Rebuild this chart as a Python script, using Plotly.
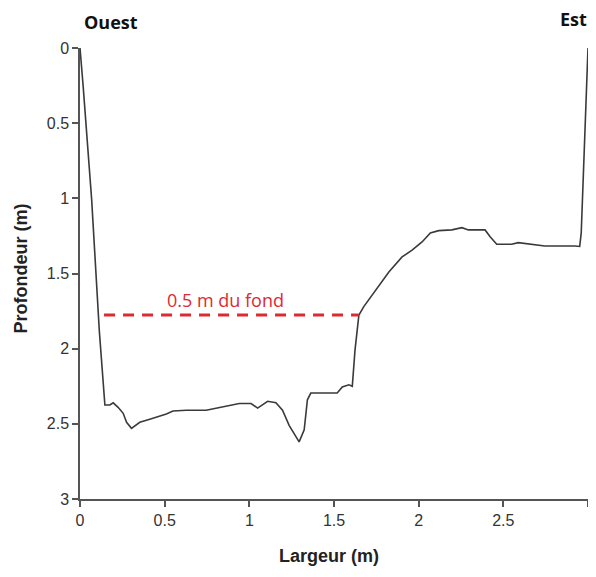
import plotly.graph_objects as go

# Cross-section profile (width in m, depth in m)
largeur = [0.0, 0.019, 0.069, 0.114, 0.147, 0.176, 0.196, 0.225, 0.255, 0.275,
           0.304, 0.353, 0.412, 0.471, 0.51, 0.549, 0.628, 0.745, 0.804, 0.863,
           0.941, 1.01, 1.049, 1.108, 1.157, 1.196, 1.235, 1.294, 1.324, 1.343,
           1.363, 1.519, 1.549, 1.588, 1.608, 1.624, 1.647, 1.676, 1.745, 1.824,
           1.902, 1.961, 2.02, 2.069, 2.118, 2.196, 2.255, 2.294, 2.392, 2.422,
           2.461, 2.549, 2.588, 2.667, 2.745, 2.922, 2.951, 2.96, 3.0]
profondeur = [0.0, 0.26, 1.01, 1.88, 2.375, 2.375, 2.36, 2.39, 2.43, 2.49,
              2.53, 2.49, 2.47, 2.45, 2.435, 2.415, 2.41, 2.41, 2.395, 2.385,
              2.365, 2.365, 2.395, 2.35, 2.36, 2.41, 2.51, 2.62, 2.54, 2.34,
              2.295, 2.295, 2.255, 2.24, 2.25, 2.01, 1.776, 1.72, 1.61, 1.49,
              1.39, 1.345, 1.29, 1.23, 1.215, 1.21, 1.195, 1.21, 1.21, 1.255,
              1.305, 1.305, 1.295, 1.305, 1.317, 1.317, 1.32, 1.23, 0.0]

# Reference line 0.5 m above the bottom
ligne_x = [0.142, 1.645]
ligne_y = [1.776, 1.776]
ligne_label = "0.5 m du fond"

x_ticks = [0, 0.5, 1, 1.5, 2, 2.5, 3]
x_tick_labels = ["0", "0.5", "1", "1.5", "2", "2.5", "3"]
y_ticks = [0, 0.5, 1, 1.5, 2, 2.5, 3]
y_tick_labels = ["0", "0.5", "1", "1.5", "2", "2.5", "3"]

fig = go.Figure()
fig.add_trace(go.Scatter(x=largeur, y=profondeur, mode="lines",
                         line=dict(color="#3a3a3a", width=1.6), cliponaxis=False,
                         hoverinfo="skip", showlegend=False))
fig.add_trace(go.Scatter(x=ligne_x, y=ligne_y, mode="lines",
                         line=dict(color="#dc2a33", width=3, dash="11px,8px"),
                         hoverinfo="skip", showlegend=False))

fig.add_annotation(x=0.862, y=1.676, xref="x", yref="y", text=ligne_label,
                   xanchor="center", yanchor="middle",
                   showarrow=False, font=dict(family="Open Sans", size=18, color="#dc2a33"))

fig.add_annotation(x=0.061, y=1.0576, xref="paper", yref="paper", text="<b>Ouest</b>",
                   xanchor="center", yanchor="middle",
                   showarrow=False, font=dict(family="Open Sans", size=18, color="#111"))
fig.add_annotation(x=0.972, y=1.064, xref="paper", yref="paper", text="<b>Est</b>",
                   xanchor="center", yanchor="middle",
                   showarrow=False, font=dict(family="Open Sans", size=18, color="#111"))
fig.add_annotation(x=0.490, y=-0.126, xref="paper", yref="paper", text="<b>Largeur (m)</b>",
                   xanchor="center", yanchor="middle",
                   showarrow=False, font=dict(family="Liberation Sans", size=18, color="#222"))
fig.add_annotation(x=-0.117, y=0.51, xref="paper", yref="paper", text="<b>Profondeur (m)</b>",
                   xanchor="center", yanchor="middle",
                   textangle=-90, showarrow=False,
                   font=dict(family="Liberation Sans", size=18, color="#222"))

# The page body adds an 8 px offset; the figure is sized so the plot area
# lands at the same place as in the reference without overflowing the page.
fig.update_layout(
    width=580, height=561,
    margin=dict(l=72, r=0, t=40, b=70),
    plot_bgcolor="white", paper_bgcolor="white",
    font=dict(family="Liberation Sans", size=16, color="#333"),
)
fig.update_xaxes(range=[0, 3], tickvals=x_ticks, ticktext=x_tick_labels, automargin=False,
                 showgrid=False, zeroline=False, showline=True, linecolor="#555",
                 linewidth=1.5, ticks="outside", ticklen=6, tickcolor="#555", tickwidth=1.5)
fig.update_yaxes(range=[3, 0], tickvals=y_ticks, ticktext=y_tick_labels, automargin=False,
                 showgrid=False, zeroline=False, showline=True, linecolor="#555",
                 linewidth=1.5, ticks="outside", ticklen=6, tickcolor="#555", tickwidth=1.5)

fig.write_html("out.html")
